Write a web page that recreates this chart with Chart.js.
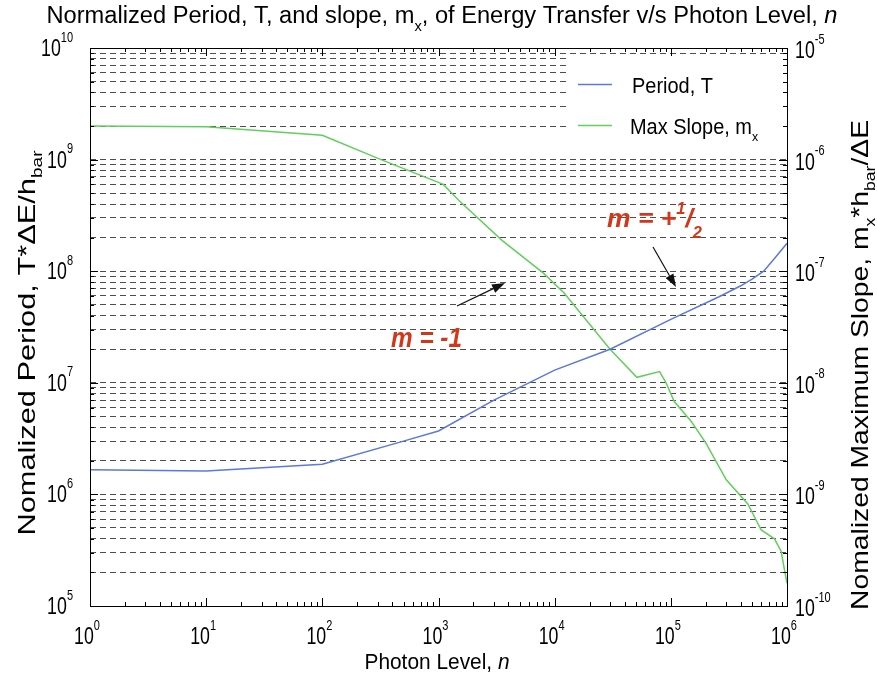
<!DOCTYPE html>
<html>
<head>
<meta charset="utf-8">
<script src="https://cdn.jsdelivr.net/npm/chart.js@4.4.1/dist/chart.umd.min.js"></script>
<style>
  html, body { margin: 0; background: #fff; }
  #wrap { width: 877px; height: 677px; position: relative; }
</style>
</head>
<body>
<div id="wrap"><canvas id="chart"></canvas></div>
<script>
// valores
const periodN = [1, 10, 100, 500, 1000, 3000, 10000, 30000, 100000, 260000, 400000, 500000, 630000, 790000, 1000000];
const periodT = [1.66e6, 1.62e6, 1.86e6, 3.0e6, 3.7e6, 7.0e6, 1.3e7, 2.0e7, 3.7e7, 5.9e7, 7.4e7, 8.5e7, 1.0e8, 1.32e8, 1.78e8];

const slopeN = [1, 10, 100, 320, 1100, 1500, 3500, 8000, 12000, 30000, 51000, 80000, 91000, 107000,
  150000, 200000, 300000, 460000, 600000, 780000, 890000, 960000, 1000000];
const slopeM = [2.0e-6, 1.97e-6, 1.65e-6, 1.0e-6, 6.0e-7, 4.3e-7, 1.9e-7, 9.6e-8, 6.4e-8, 2.0e-8, 1.12e-8,
  1.26e-8, 1.0e-8, 6.8e-9, 4.5e-9, 2.9e-9, 1.35e-9, 8.2e-10, 4.8e-10, 4.0e-10, 3.1e-10, 2.0e-10, 1.6e-10];

// expoentes das décadas (rótulos dos eixos)
const xDecades = [0, 1, 2, 3, 4, 5, 6];
const leftDecades = [5, 6, 7, 8, 9, 10];
const rightDecades = [-10, -9, -8, -7, -6, -5];

const FONT = '"Liberation Sans", Arial, sans-serif';
const BLUE = '#5b78dd';
const GREEN = '#62cf5c';
const RED = '#d2371c';

// valores 1..9 x 10^k entre as décadas
function logSteps(decades) {
  const out = [];
  for (let i = 0; i < decades.length - 1; i++) {
    for (let m = 1; m <= 9; m++) out.push({ value: m * Math.pow(10, decades[i]), major: m === 1 });
  }
  out.push({ value: Math.pow(10, decades[decades.length - 1]), major: true });
  return out;
}

function fontStr(size, p, o) {
  const st = (p.italic || o.italic) ? 'italic ' : '';
  const wt = (p.bold || o.bold) ? 'bold ' : '';
  return st + wt + size + 'px ' + FONT;
}
function partSize(p, size) { return (p.sup || p.sub) ? size * 0.62 : size; }
function measureRich(ctx, parts, o) {
  let w = 0;
  parts.forEach(p => { ctx.font = fontStr(partSize(p, o.size), p, o); w += ctx.measureText(p.t).width; });
  return w;
}
// texto com sub/sobrescrito, escala horizontal opcional
function drawRich(ctx, parts, x, y, o) {
  ctx.save();
  const raw = measureRich(ctx, parts, o);
  const sx = o.width ? o.width / raw : (o.sx || 1);
  ctx.translate(x, y);
  if (o.rot) ctx.rotate(o.rot);
  ctx.scale(sx, 1);
  let cx = o.align === 'center' ? -raw / 2 : (o.align === 'right' ? -raw : 0);
  ctx.fillStyle = o.color || '#000';
  ctx.textAlign = 'left';
  ctx.textBaseline = 'alphabetic';
  parts.forEach(p => {
    const s = partSize(p, o.size);
    ctx.font = fontStr(s, p, o);
    const dy = p.sup ? -o.size * (o.raise || 0.42) : (p.sub ? o.size * (o.lower || 0.22) : 0);
    ctx.fillText(p.t, cx, dy);
    cx += ctx.measureText(p.t).width;
  });
  ctx.restore();
  return sx;
}

function arrow(ctx, x1, y1, x2, y2) {
  const a = Math.atan2(y2 - y1, x2 - x1);
  const len = 13, half = 4.5;
  ctx.save();
  ctx.strokeStyle = '#111';
  ctx.fillStyle = '#111';
  ctx.lineWidth = 1.2;
  ctx.beginPath();
  ctx.moveTo(x1, y1);
  ctx.lineTo(x2 - Math.cos(a) * len, y2 - Math.sin(a) * len);
  ctx.stroke();
  ctx.beginPath();
  ctx.moveTo(x2, y2);
  ctx.lineTo(x2 - Math.cos(a) * len - Math.sin(a) * half, y2 - Math.sin(a) * len + Math.cos(a) * half);
  ctx.lineTo(x2 - Math.cos(a) * len + Math.sin(a) * half, y2 - Math.sin(a) * len - Math.cos(a) * half);
  ctx.closePath();
  ctx.fill();
  ctx.restore();
}

const decorations = {
  id: 'decorations',
  afterDraw(chart) {
    const ctx = chart.ctx;
    const a = chart.chartArea;
    const sx = chart.scales.x, sy = chart.scales.y, sy2 = chart.scales.y2;

    // caixa da legenda
    ctx.save();
    ctx.fillStyle = '#fff';
    ctx.fillRect(568, 57, a.right - 568, 89);
    ctx.lineWidth = 1.5;
    ctx.strokeStyle = BLUE;
    ctx.beginPath(); ctx.moveTo(578, 84.5); ctx.lineTo(612, 84.5); ctx.stroke();
    ctx.strokeStyle = GREEN;
    ctx.beginPath(); ctx.moveTo(578, 125.5); ctx.lineTo(612, 125.5); ctx.stroke();
    ctx.restore();
    drawRich(ctx, [{ t: 'Period, T' }], 632, 93, { size: 22, width: 81 });
    drawRich(ctx, [{ t: 'Max Slope, m' }, { t: 'x', sub: true }], 630, 134, { size: 22, sx: 81 / 89.3, lower: 0.3 });

    // moldura
    ctx.save();
    ctx.strokeStyle = '#000';
    ctx.lineWidth = 1;
    ctx.strokeRect(Math.round(a.left) + 0.5, Math.round(a.top) + 0.5, Math.round(a.right - a.left), Math.round(a.bottom - a.top));

    // marcas de escala para dentro
    ctx.beginPath();
    logSteps(xDecades).forEach(t => {
      const px = Math.round(sx.getPixelForValue(t.value)) + 0.5;
      const l = t.major ? 8 : 4;
      ctx.moveTo(px, a.bottom); ctx.lineTo(px, a.bottom - l);
      ctx.moveTo(px, a.top); ctx.lineTo(px, a.top + l);
    });
    logSteps(leftDecades).forEach(t => {
      const py = Math.round(sy.getPixelForValue(t.value)) + 0.5;
      const l = t.major ? 8 : 4;
      ctx.moveTo(a.left, py); ctx.lineTo(a.left + l, py);
    });
    logSteps(rightDecades).forEach(t => {
      const py = Math.round(sy2.getPixelForValue(t.value)) + 0.5;
      const l = t.major ? 8 : 4;
      ctx.moveTo(a.right, py); ctx.lineTo(a.right - l, py);
    });
    ctx.stroke();
    ctx.restore();

    // rótulos das décadas
    const tick = { size: 24, sx: 0.74, raise: 0.6 };
    xDecades.forEach(e => {
      const px = sx.getPixelForValue(Math.pow(10, e));
      drawRich(ctx, [{ t: '10' }, { t: String(e), sup: true }], px - 3, 644, Object.assign({ align: 'center' }, tick));
    });
    leftDecades.forEach(e => {
      const py = sy.getPixelForValue(Math.pow(10, e));
      drawRich(ctx, [{ t: '10' }, { t: String(e), sup: true }], 73, py + 8, Object.assign({ align: 'right' }, tick));
    });
    rightDecades.forEach(e => {
      const py = sy2.getPixelForValue(Math.pow(10, e));
      drawRich(ctx, [{ t: '10' }, { t: String(e), sup: true }], 795, py + 10, tick);
    });

    // títulos
    drawRich(ctx, [{ t: 'Normalized Period, T, and slope, m' }, { t: 'x', sub: true },
      { t: ', of Energy Transfer v/s Photon Level, ' }, { t: 'n', italic: true }],
      442, 23, { size: 23, width: 791, align: 'center', lower: 0.35 });
    drawRich(ctx, [{ t: 'Photon Level, ' }, { t: 'n', italic: true }], 437, 669, { size: 22, width: 145, align: 'center' });
    drawRich(ctx, [{ t: 'Nomalized Maximum Slope, m' }, { t: 'x', sub: true }, { t: '*h' }, { t: 'bar', sub: true }, { t: '/ΔE' }],
      868, 365, { size: 24, width: 490, align: 'center', rot: -Math.PI / 2, lower: 0.3 });
    drawRich(ctx, [{ t: 'Nomalized Period, T*ΔE/h' }, { t: 'bar', sub: true }],
      35, 343, { size: 24, width: 385, align: 'center', rot: -Math.PI / 2, lower: 0.3 });

    // anotações
    drawRich(ctx, [{ t: 'm = -1' }], 391, 347, { size: 27, width: 71, bold: true, italic: true, color: RED });
    drawRich(ctx, [{ t: 'm = +' }, { t: '1', sup: true }, { t: '/' }, { t: '2', sub: true }], 607, 227,
      { size: 26, width: 95, bold: true, italic: true, color: RED, raise: 0.5, lower: 0.42 });
    arrow(ctx, 457, 306, 505, 283);
    arrow(ctx, 653, 247, 676, 287);
  }
};

const chart = new Chart(document.getElementById('chart').getContext('2d'), {
  type: 'line',
  data: {
    datasets: [
      {
        label: 'Period, T',
        data: periodN.map((n, i) => ({ x: n, y: periodT[i] })),
        borderColor: BLUE,
        borderWidth: 1.5,
        pointRadius: 0,
        yAxisID: 'y'
      },
      {
        label: 'Max Slope, m_x',
        data: slopeN.map((n, i) => ({ x: n, y: slopeM[i] })),
        borderColor: GREEN,
        borderWidth: 1.5,
        pointRadius: 0,
        yAxisID: 'y2'
      }
    ]
  },
  options: {
    responsive: true,
    maintainAspectRatio: false,
    animation: false,
    layout: { padding: { left: 90, top: 48, right: 90, bottom: 71 } },
    plugins: { legend: { display: false }, tooltip: { enabled: false } },
    scales: {
      x: { type: 'logarithmic', min: 1, max: 1e6, display: false },
      y: {
        type: 'logarithmic', min: 1e5, max: 1e10, position: 'left',
        afterBuildTicks: (s) => { s.ticks = logSteps(leftDecades); },
        ticks: { display: false },
        grid: { color: '#4d4d4d', lineWidth: 1, drawTicks: false },
        border: { display: false, dash: [6, 4] }
      },
      y2: { type: 'logarithmic', min: 1e-10, max: 1e-5, position: 'right', display: false }
    }
  },
  plugins: [decorations]
});
</script>
</body>
</html>
